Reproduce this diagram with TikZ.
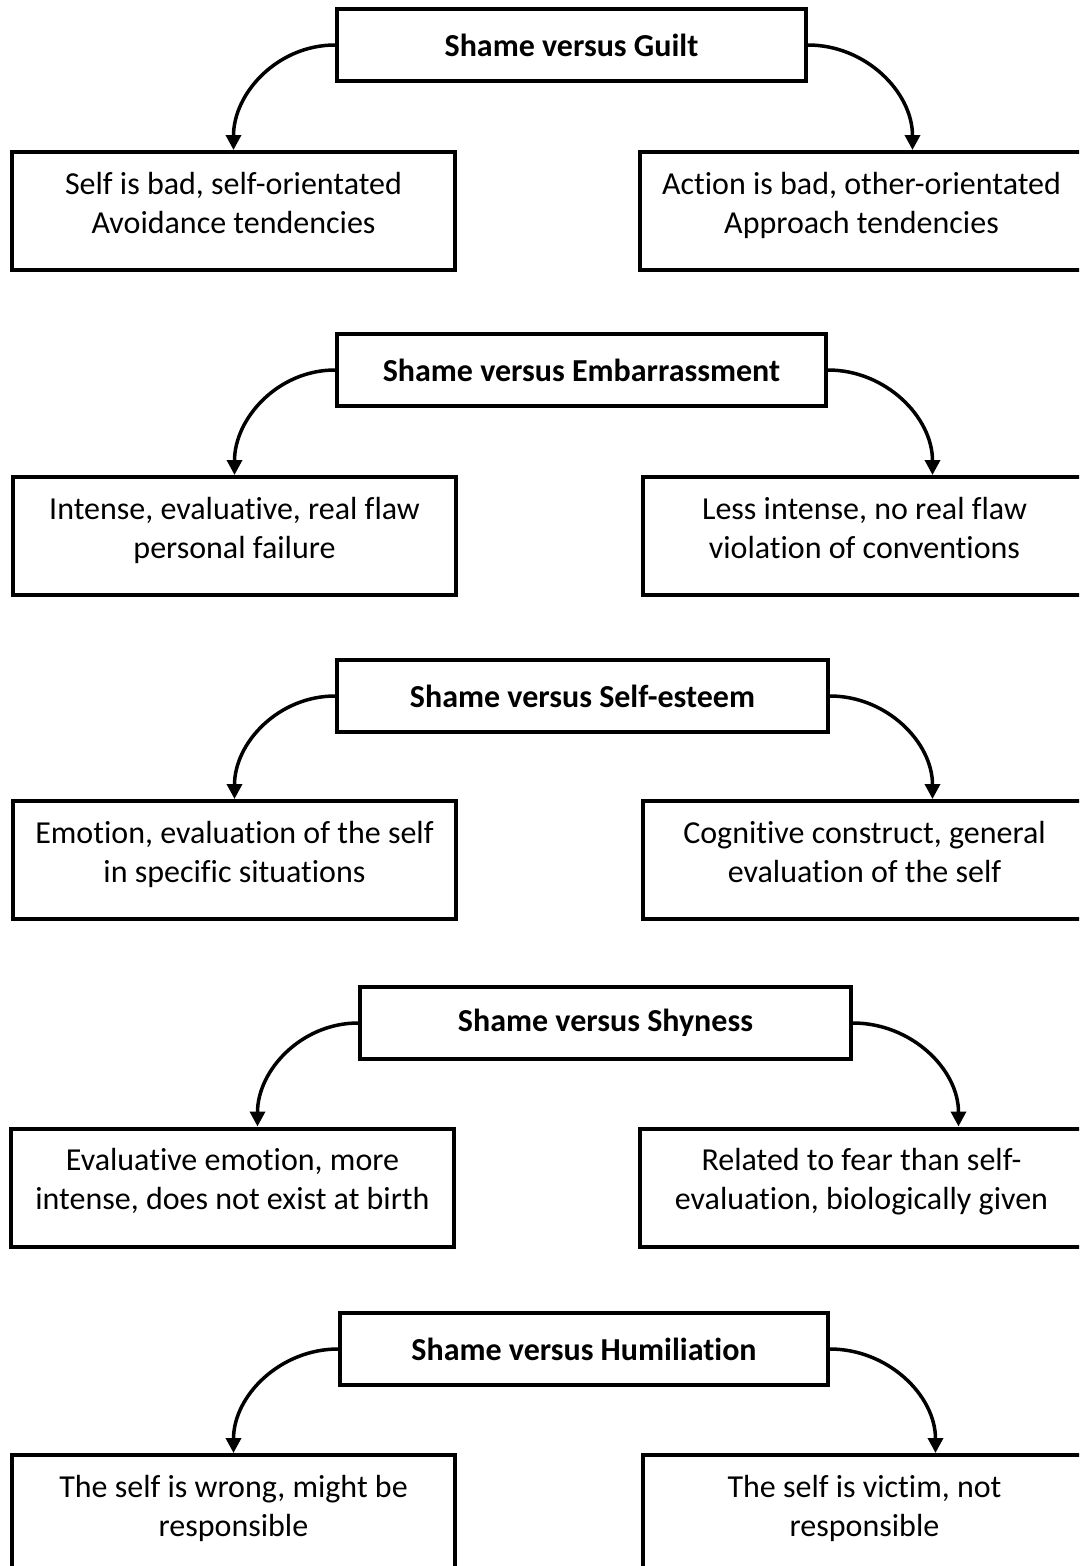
\documentclass[tikz,border=0pt]{standalone}
\usepackage{fontspec}
\setmainfont{Carlito}[Ligatures=NoCommon]
\usetikzlibrary{arrows.meta}

\tikzset{
    headbox/.style={draw, line width=4pt, minimum height=72pt, inner sep=0pt,
        font=\bfseries\fontsize{32}{39}\selectfont},
    itembox/.style={draw, line width=4pt, minimum width=443pt, minimum height=118pt,
        inner sep=0pt, align=center, text depth=17pt, font=\fontsize{32}{39}\selectfont},
    link/.style={line width=3.5pt, -{Triangle[width=15pt,length=15pt]}}
}

\begin{document}
\begin{tikzpicture}[x=1pt,y=-1pt]
            \useasboundingbox (0,0) rectangle (1079,1566);
            \clip (0,0) rectangle (1079,1566);

            \coordinate (t1) at (571.5,45);
            \coordinate (t2) at (581.5,370);
            \coordinate (t3) at (582.5,696);
            \coordinate (t4) at (605.5,1023);
            \coordinate (t5) at (584,1349);

            \node[headbox, minimum width=469pt] (g1) at (t1) {Shame versus Guilt};
            \node[headbox, minimum width=489pt] (g2) at (t2) {Shame versus Embarrassment};
            \node[headbox, minimum width=491pt] (g3) at (t3) {Shame versus Self-esteem};
            \node[headbox, minimum width=491pt] (g4) at (t4) {Shame versus Shyness};
            \node[headbox, minimum width=488pt] (g5) at (t5) {Shame versus Humiliation};

            \node[itembox] (l1) at (233.5,211) {Self is bad, self-orientated\\Avoidance tendencies};
            \node[itembox] (r1) at (861.5,211) {Action is bad, other-orientated\\Approach tendencies};
            \node[itembox] (l2) at (234.5,536) {Intense, evaluative, real flaw\\personal failure};
            \node[itembox] (r2) at (864.5,536) {Less intense, no real flaw\\violation of conventions};
            \node[itembox] (l3) at (234.5,860) {Emotion, evaluation of the self\\in specific situations};
            \node[itembox] (r3) at (864.5,860) {Cognitive construct, general\\evaluation of the self};
            \node[itembox] (l4) at (232.5,1187.5) {Evaluative emotion, more\\intense, does not exist at birth};
            \node[itembox] (r4) at (861.5,1187.5) {Related to fear than self-\\evaluation, biologically given};
            \node[itembox] (l5) at (233.5,1514) {The self is wrong, might be\\responsible};
            \node[itembox] (r5) at (864.5,1514) {The self is victim, not\\responsible};

            \draw[link] (g1.west) to[out=180,in=90] (l1.north);
            \draw[link] (g1.east) to[out=0,in=90] ([xshift=51pt]r1.north);
            \draw[link] (g2.west) to[out=180,in=90] (l2.north);
            \draw[link] (g2.east) to[out=0,in=90] ([xshift=68pt]r2.north);
            \draw[link] (g3.west) to[out=180,in=90] (l3.north);
            \draw[link] (g3.east) to[out=0,in=90] ([xshift=68pt]r3.north);
            \draw[link] (g4.west) to[out=180,in=90] ([xshift=25pt]l4.north);
            \draw[link] (g4.east) to[out=0,in=90] ([xshift=97pt]r4.north);
            \draw[link] (g5.west) to[out=180,in=90] (l5.north);
            \draw[link] (g5.east) to[out=0,in=90] ([xshift=71pt]r5.north);
        \end{tikzpicture}
\end{document}
